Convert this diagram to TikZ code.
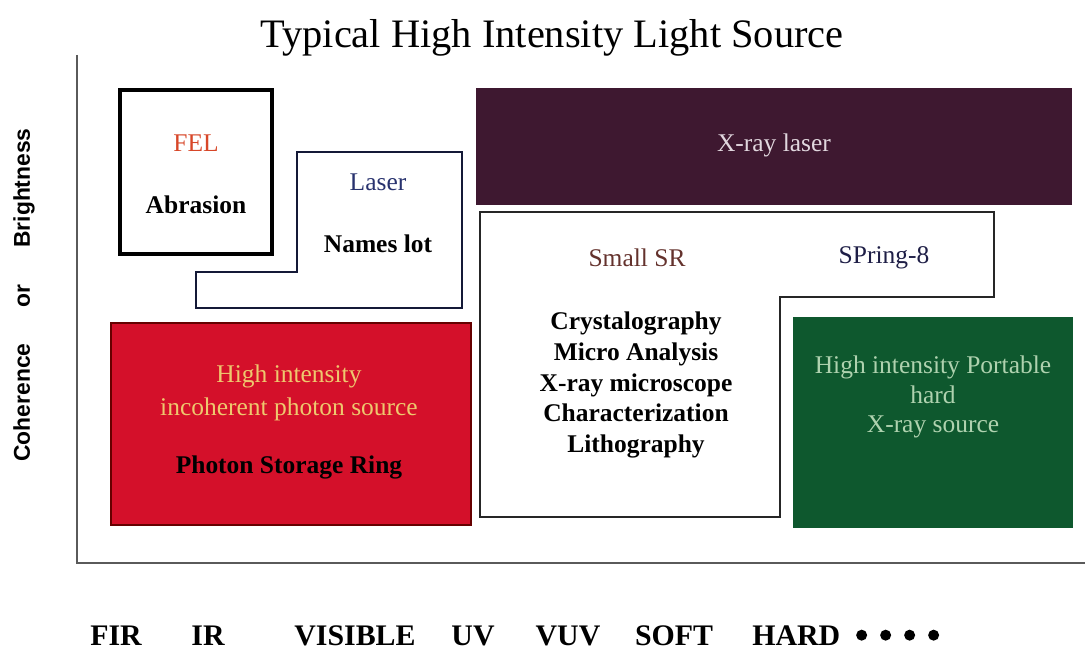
\documentclass[tikz,border=0pt]{standalone}
\usepackage{fontspec}
\setmainfont{Liberation Serif}
\setsansfont{Liberation Sans}
\usetikzlibrary{positioning}
\definecolor{felred}{RGB}{215,70,40}
\definecolor{laserblue}{RGB}{40,50,110}
\definecolor{xraypurple}{RGB}{62,24,48}
\definecolor{xraytext}{RGB}{225,215,222}
\definecolor{srbrown}{RGB}{100,50,45}
\definecolor{springnavy}{RGB}{30,30,70}
\definecolor{ringred}{RGB}{212,16,42}
\definecolor{ringyellow}{RGB}{238,200,110}
\definecolor{portgreen}{RGB}{14,88,46}
\definecolor{portlight}{RGB}{175,210,175}
\definecolor{axisgray}{RGB}{90,90,90}
\begin{document}
\begin{tikzpicture}[x=0.02cm,y=-0.02cm]
% --- Layout & Styles --------------------------------------
\tikzstyle{box text}=[inner sep=0, align=center, font=\fontsize{14.5}{17.6}\selectfont]
\tikzstyle{bold text}=[inner sep=0, align=center, font=\fontsize{14.5}{17.6}\selectfont\bfseries]
\tikzstyle{band label}=[inner sep=0, anchor=base, font=\fontsize{17}{20}\selectfont\bfseries]
\tikzstyle{outline}=[draw=black!85, line width=1.3pt]
\useasboundingbox (0,0) rectangle (1085,651);

% --- Title & axes -----------------------------------------
\node (title) at (552,38) [font=\fontsize{23}{27}\selectfont] {Typical High Intensity Light Source};
\coordinate (ytop) at (77,55);
\coordinate (origin) at (77,563);
\coordinate (xend) at (1085,563);
\draw [axisgray, line width=1.6pt] (ytop) -- (origin) -- (xend);
\node (ylabel) at (24,295) [rotate=90, inner sep=0, font=\sffamily\bfseries\fontsize{13}{15}\selectfont]
  {Coherence\hspace{1.6em}or\hspace{1.6em}Brightness};

% --- Sources ----------------------------------------------
\draw [line width=2.2pt] (120,90) rectangle (272,254);
\node (fel) at (196,143) [box text, text=felred] {FEL};
\node (abrasion) at (196,205) [bold text] {Abrasion};

\draw [outline, draw=laserblue!50!black] (297,152) -- (462,152) -- (462,308) -- (196,308)
  -- (196,272) -- (297,272) -- cycle;
\node (laser) at (378,182) [box text, text=laserblue] {Laser};
\node (nameslot) at (378,244) [bold text] {Names lot};

\fill [xraypurple] (476,88) rectangle (1072,205);
\node (xray) at (774,145) [box text, text=xraytext] {X-ray laser};

\draw [outline] (480,212) -- (994,212) -- (994,297) -- (780,297) -- (780,517) -- (480,517) -- cycle;
\node (smallsr) at (637,258) [box text, text=srbrown] {Small SR};
\node (spring) at (884,258) [box text, text=springnavy] {SPring-8};
\node (uses) at (636,385) [bold text]
  {Crystalography\\Micro Analysis\\X-ray microscope\\Characterization\\Lithography};

\draw [fill=ringred, draw=black!60!red, line width=1pt] (111,323) rectangle (471,525);
\node (incoherent) at (289,393) [box text, text=ringyellow, font=\fontsize{14.5}{18.4}\selectfont]
  {High intensity\\incoherent photon source};
\node (ring) at (289,467) [bold text] {Photon Storage Ring};

\fill [portgreen] (793,317) rectangle (1073,528);
\node (portable) at (933,397) [box text, text=portlight, font=\fontsize{14.5}{16.6}\selectfont]
  {High intensity Portable\\hard\\X-ray source};

% --- Spectrum bands ---------------------------------------
\node (fir) at (116,645) [band label] {FIR};
\node (ir) at (208,645) [band label] {IR};
\node (visible) at (355,645) [band label] {VISIBLE};
\node (uv) at (473,645) [band label] {UV};
\node (vuv) at (568,645) [band label] {VUV};
\node (soft) at (674,645) [band label] {SOFT};
\node (hard) at (752,645) [band label, anchor=base west] {HARD};
\foreach \k in {0,...,3}
  \fill ([xshift=0.42cm+\k*0.48cm]hard.east) circle [radius=0.11cm];

\end{tikzpicture}
\end{document}
